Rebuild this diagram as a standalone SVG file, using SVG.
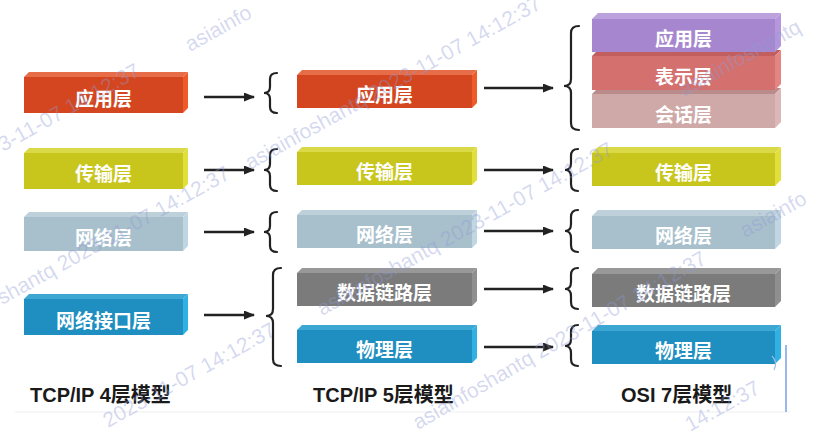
<svg xmlns="http://www.w3.org/2000/svg" width="819" height="437" viewBox="0 0 819 437">
<style>
.lbl{font-family:"Noto Sans CJK SC","Liberation Sans",sans-serif;font-weight:bold;font-size:19px;fill:#ffffff;text-anchor:middle;dominant-baseline:central}
.cap{font-family:"Liberation Sans","Noto Sans CJK SC",sans-serif;font-weight:bold;font-size:20px;fill:#1a1a1a}
.wm{font-family:"Liberation Sans",sans-serif;font-size:21px;fill:#8f9ad6;fill-opacity:0.38}
.conn path.a{fill:none;stroke:#222;stroke-width:2.5}
.conn path.b{fill:none;stroke:#222;stroke-width:2.2;stroke-linecap:round}
.org .f{fill:#d4461f}.org .t{fill:#e66d48}.org .s{fill:#ee5a2a}
.yel .f{fill:#c8c61c}.yel .t{fill:#dad947}.yel .s{fill:#e0df3c}
.stl .f{fill:#a8c0cc}.stl .t{fill:#bed0d9}.stl .s{fill:#c0d7e3}
.tea .f{fill:#1f8ec0}.tea .t{fill:#3ba7d2}.tea .s{fill:#2fb1e3}
.gry .f{fill:#7b7b7b}.gry .t{fill:#989898}.gry .s{fill:#8f8f8f}
.pur .f{fill:#a687cf}.pur .t{fill:#bca2dd}.pur .s{fill:#b497dc}
.sal .f{fill:#d4706e}.sal .t{fill:#c25f5e}.sal .s{fill:#e28583}
.ros .f{fill:#cfa9a8}.ros .t{fill:#b98c8b}.ros .s{fill:#dbb8b7}
</style>
<defs>
<marker id="ah" markerUnits="userSpaceOnUse" markerWidth="11" markerHeight="9" refX="10" refY="4.5" orient="auto">
<path d="M0,0 L11,4.5 L0,9 z" fill="#222"/>
</marker>
</defs>
<rect width="819" height="437" fill="#ffffff"/>

<!-- Column 1: TCP/IP 4 -->
<g id="c1-app" class="org">
<polygon class="t" points="24,77 29,72 188,72 183,77"/>
<polygon class="s" points="183,77 188,72 188,108 183,113"/>
<rect class="f" x="24" y="77" width="159" height="36"/>
<text class="lbl" x="103.5" y="97">应用层</text>
</g>
<g id="c1-trans" class="yel">
<polygon class="t" points="24,153 29,148 188,148 183,153"/>
<polygon class="s" points="183,153 188,148 188,184 183,189"/>
<rect class="f" x="24" y="153" width="159" height="36"/>
<text class="lbl" x="103.5" y="172">传输层</text>
</g>
<g id="c1-net" class="stl">
<polygon class="t" points="24,217 29,212 188,212 183,217"/>
<polygon class="s" points="183,217 188,212 188,246 183,251"/>
<rect class="f" x="24" y="217" width="159" height="34"/>
<text class="lbl" x="103.5" y="236">网络层</text>
</g>
<g id="c1-link" class="tea">
<polygon class="t" points="24,299 29,294 188,294 183,299"/>
<polygon class="s" points="183,299 188,294 188,330 183,335"/>
<rect class="f" x="24" y="299" width="159" height="36"/>
<text class="lbl" x="103.5" y="319">网络接口层</text>
</g>

<!-- Column 2: TCP/IP 5 -->
<g id="c2-app" class="org">
<polygon class="t" points="297,75 302,70 477,70 472,75"/>
<polygon class="s" points="472,75 477,70 477,103 472,108"/>
<rect class="f" x="297" y="75" width="175" height="33"/>
<text class="lbl" x="384.5" y="93">应用层</text>
</g>
<g id="c2-trans" class="yel">
<polygon class="t" points="297,152 302,147 477,147 472,152"/>
<polygon class="s" points="472,152 477,147 477,180 472,185"/>
<rect class="f" x="297" y="152" width="175" height="33"/>
<text class="lbl" x="384.5" y="170">传输层</text>
</g>
<g id="c2-net" class="stl">
<polygon class="t" points="297,215 302,210 477,210 472,215"/>
<polygon class="s" points="472,215 477,210 477,243 472,248"/>
<rect class="f" x="297" y="215" width="175" height="33"/>
<text class="lbl" x="384.5" y="233">网络层</text>
</g>
<g id="c2-dl" class="gry">
<polygon class="t" points="297,273 302,268 477,268 472,273"/>
<polygon class="s" points="472,273 477,268 477,301 472,306"/>
<rect class="f" x="297" y="273" width="175" height="33"/>
<text class="lbl" x="384.5" y="291">数据链路层</text>
</g>
<g id="c2-phy" class="tea">
<polygon class="t" points="297,330 302,325 477,325 472,330"/>
<polygon class="s" points="472,330 477,325 477,358 472,363"/>
<rect class="f" x="297" y="330" width="175" height="33"/>
<text class="lbl" x="384.5" y="348">物理层</text>
</g>

<!-- Column 3: OSI 7 -->
<g id="c3-sess" class="ros">
<polygon class="t" points="592,94 598,88 781,88 775,94"/>
<polygon class="s" points="775,94 781,88 781,122 775,128"/>
<rect class="f" x="592" y="94" width="183" height="34"/>
<text class="lbl" x="683.5" y="113">会话层</text>
</g>
<g id="c3-pres" class="sal">
<polygon class="t" points="592,56 598,50 781,50 775,56"/>
<polygon class="s" points="775,56 781,50 781,84 775,90"/>
<rect class="f" x="592" y="56" width="183" height="34"/>
<text class="lbl" x="683.5" y="75">表示层</text>
</g>
<g id="c3-app" class="pur">
<polygon class="t" points="592,19 598,13 781,13 775,19"/>
<polygon class="s" points="775,19 781,13 781,46 775,52"/>
<rect class="f" x="592" y="19" width="183" height="33"/>
<text class="lbl" x="683.5" y="37">应用层</text>
</g>
<g id="c3-trans" class="yel">
<polygon class="t" points="592,153 598,147 781,147 775,153"/>
<polygon class="s" points="775,153 781,147 781,180 775,186"/>
<rect class="f" x="592" y="153" width="183" height="33"/>
<text class="lbl" x="683.5" y="171">传输层</text>
</g>
<g id="c3-net" class="stl">
<polygon class="t" points="592,216 598,210 781,210 775,216"/>
<polygon class="s" points="775,216 781,210 781,243 775,249"/>
<rect class="f" x="592" y="216" width="183" height="33"/>
<text class="lbl" x="683.5" y="234">网络层</text>
</g>
<g id="c3-dl" class="gry">
<polygon class="t" points="592,274 598,268 781,268 775,274"/>
<polygon class="s" points="775,274 781,268 781,301 775,307"/>
<rect class="f" x="592" y="274" width="183" height="33"/>
<text class="lbl" x="683.5" y="292">数据链路层</text>
</g>
<g id="c3-phy" class="tea">
<polygon class="t" points="592,331 598,325 781,325 775,331"/>
<polygon class="s" points="775,331 781,325 781,358 775,364"/>
<rect class="f" x="592" y="331" width="183" height="33"/>
<text class="lbl" x="683.5" y="349">物理层</text>
</g>

<!-- connectors -->
<g id="connectors" class="conn">
<path class="a" d="M204,97 H254" marker-end="url(#ah)"/>
<path class="a" d="M204,170 H254" marker-end="url(#ah)"/>
<path class="a" d="M204,232 H254" marker-end="url(#ah)"/>
<path class="a" d="M204,315 H254" marker-end="url(#ah)"/>
<path class="b" d="M277,73 Q270,73 270,79 L270,87 Q270,93 264,93 Q270,93 270,99 L270,107 Q270,113 277,113"/>
<path class="b" d="M277,149 Q270,149 270,155 L270,164 Q270,170 264,170 Q270,170 270,176 L270,185 Q270,191 277,191"/>
<path class="b" d="M277,212 Q270,212 270,218 L270,226 Q270,232 264,232 Q270,232 270,238 L270,246 Q270,252 277,252"/>
<path class="b" d="M281,268 Q273,268 273,275 L273,309 Q273,316 266,316 Q273,316 273,323 L273,359 Q273,366 281,366"/>
<path class="a" d="M484,88 H553" marker-end="url(#ah)"/>
<path class="a" d="M484,170 H553" marker-end="url(#ah)"/>
<path class="a" d="M484,231 H553" marker-end="url(#ah)"/>
<path class="a" d="M484,289 H553" marker-end="url(#ah)"/>
<path class="a" d="M484,347 H553" marker-end="url(#ah)"/>
<path class="b" d="M579,26 Q571,26 571,33 L571,79 Q571,86 564,86 Q571,86 571,93 L571,123 Q571,130 579,130"/>
<path class="b" d="M578,149 Q571,149 571,156 L571,163 Q571,170 565,170 Q571,170 571,177 L571,184 Q571,191 578,191"/>
<path class="b" d="M578,210 Q571,210 571,217 L571,224 Q571,231 565,231 Q571,231 571,238 L571,245 Q571,252 578,252"/>
<path class="b" d="M578,268 Q571,268 571,275 L571,282 Q571,289 565,289 Q571,289 571,296 L571,302 Q571,309 578,309"/>
<path class="b" d="M578,325 Q571,325 571,332 L571,339 Q571,346 565,346 Q571,346 571,353 L571,359 Q571,366 578,366"/>
</g>

<!-- captions -->
<g id="captions">
<text class="cap" x="30" y="402">TCP/IP 4层模型</text>
<text class="cap" x="313" y="402">TCP/IP 5层模型</text>
<text class="cap" x="621" y="402">OSI 7层模型</text>
</g>

<line x1="15" y1="412" x2="790" y2="412" stroke="#efefef" stroke-width="1"/>
<line x1="786" y1="345" x2="786" y2="412" stroke="#7fa6e6" stroke-width="1.6"/>
<path d="M772,356 Q778,362 774,370" fill="none" stroke="#9ab8ec" stroke-width="1.2"/>

<!-- watermarks (visible fragments) -->
<g id="watermarks">
<text class="wm" transform="translate(190,52) rotate(-29)">asiainfo</text>
<text class="wm" transform="translate(250,170) rotate(-29)">asiainfoshantq 2023-11-07 14:12:37</text>
<text class="wm" transform="translate(3,152) rotate(-29)">3-11-07 14:12:37</text>
<text class="wm" transform="translate(2,305) rotate(-29)">shantq 2023-11-07 14:12:37</text>
<text class="wm" transform="translate(322,316) rotate(-29)">asiainfoshantq 2023-11-07 14:12:37</text>
<text class="wm" transform="translate(684,97) rotate(-29)">asiainfoshantq</text>
<text class="wm" transform="translate(745,238) rotate(-29)">asiainfo</text>
<text class="wm" transform="translate(418,430) rotate(-30)">asiainfoshantq 2023-11-07 14:12:37</text>
<text class="wm" transform="translate(108,428) rotate(-29)">2023-11-07 14:12:37</text>
<text class="wm" transform="translate(690,432) rotate(-29)">14:12:37</text>
</g>
</svg>
